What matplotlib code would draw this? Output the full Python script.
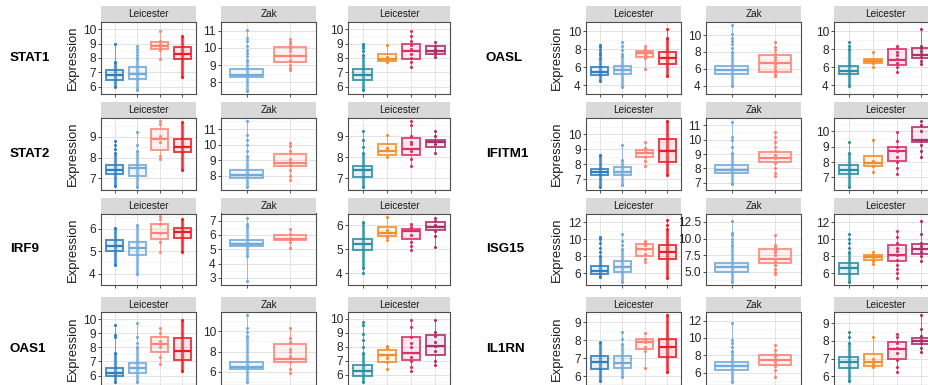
import matplotlib
matplotlib.use('Agg')
import matplotlib.pyplot as plt

plt.rcParams['font.family'] = ['Liberation Sans', 'DejaVu Sans']

# ---------------- data ----------------
genes_left = ['STAT1', 'STAT2', 'IRF9', 'OAS1']
genes_right = ['OASL', 'IFITM1', 'ISG15', 'IL1RN']
panel_titles = ['Leicester', 'Zak', 'Leicester']

colors_leic = ['#2f7ec0', '#72aadb', '#fd8476', '#ec1c24']
colors_zak = ['#72aadb', '#fd8476']
colors_leic2 = ['#2a8fa2', '#f28d2c', '#da3066', '#ad2f68']

# each group: (q1, median, q3, dense_lo, dense_hi, isolated points)
stat1_leic = [(6.45, 6.8, 7.2, 6.0, 7.7, [9.0]),
              (6.55, 6.9, 7.35, 5.75, 8.0, [8.2, 8.4, 8.6, 8.8]),
              (8.65, 8.85, 9.1, None, None, [7.9, 8.55, 8.7, 8.9, 9.0, 9.15, 9.9]),
              (7.9, 8.3, 8.75, 6.7, 9.5, [])]
stat1_zak = [(8.28, 8.45, 8.8, 7.5, 9.3, [9.5, 9.7, 9.9, 10.1, 10.4, 10.6, 11.05]),
             (9.2, 9.55, 10.05, None, None, [8.7, 8.85, 9.0, 9.3, 9.5, 9.6, 9.8, 10.0, 10.2, 10.35, 10.5])]
stat1_leic2 = [(6.5, 6.8, 7.25, 5.75, 8.2, [8.5, 8.7, 8.85, 9.0]),
               (7.8, 7.95, 8.25, None, None, [7.75, 7.85, 8.05, 8.9]),
               (7.95, 8.5, 8.95, None, None, [7.4, 7.7, 8.0, 8.3, 8.6, 8.9, 9.2, 9.5, 9.9]),
               (8.3, 8.5, 8.85, None, None, [8.1, 8.3, 8.45, 8.6, 8.85, 9.1])]

stat2_leic = [(7.2, 7.4, 7.65, 6.65, 8.2, [8.4, 8.6, 8.8]),
              (7.1, 7.5, 7.65, 6.6, 8.3, [8.6, 9.25]),
              (8.35, 8.9, 9.4, None, None, [7.95, 8.1, 8.75, 9.05, 9.6, 9.75]),
              (8.25, 8.5, 8.9, 7.4, 9.7, [])]
stat2_zak = [(7.85, 8.05, 8.4, 7.3, 9.3, [9.6, 10.0, 10.3, 10.6, 11.5]),
             (8.6, 8.85, 9.4, None, None, [7.75, 8.0, 8.4, 8.7, 8.9, 9.1, 9.6, 9.9, 10.1])]
stat2_leic2 = [(7.05, 7.4, 7.6, 6.6, 8.2, [8.5, 8.8, 9.25]),
               (8.1, 8.3, 8.6, None, None, [8.0, 8.45, 9.05]),
               (8.1, 8.4, 8.9, None, None, [7.6, 7.9, 8.3, 8.6, 8.7, 9.0, 9.5, 9.7]),
               (8.5, 8.7, 8.8, None, None, [8.2, 8.6, 8.75, 9.0, 9.25])]

irf9_leic = [(5.0, 5.25, 5.5, 4.4, 6.05, []),
             (4.85, 5.15, 5.4, 4.0, 6.15, []),
             (5.55, 5.8, 6.2, None, None, [4.95, 5.4, 5.8, 6.2, 6.45, 6.55]),
             (5.6, 5.85, 6.05, 4.95, 6.45, [])]
irf9_zak = [(5.2, 5.4, 5.65, 4.5, 6.6, [6.8, 7.2, 2.75]),
            (5.65, 5.75, 6.0, None, None, [5.1, 5.5, 5.8, 6.1, 6.4])]
irf9_leic2 = [(4.95, 5.2, 5.45, 4.2, 6.15, [4.0]),
              (5.55, 5.7, 5.95, None, None, [5.4, 5.5, 5.8, 6.35]),
              (5.45, 5.75, 5.85, None, None, [4.95, 5.15, 5.3, 5.6, 5.8, 5.95, 6.05]),
              (5.8, 5.95, 6.15, None, None, [5.1, 5.55, 5.75, 6.0, 6.2, 6.3])]

oas1_leic = [(5.95, 6.2, 6.55, 5.55, 7.6, [8.7, 8.9, 9.55]),
             (6.2, 6.5, 6.9, 5.55, 8.0, [8.3, 8.7, 9.7]),
             (7.7, 8.2, 8.7, None, None, [6.85, 7.3, 8.0, 8.2, 8.45, 9.0, 9.35]),
             (7.1, 7.75, 8.65, 6.3, 9.95, [])]
oas1_zak = [(6.3, 6.5, 7.0, 5.0, 9.5, [9.9, 10.3, 11.6]),
            (7.0, 7.3, 8.7, None, None, [5.9, 6.3, 7.0, 7.6, 8.0, 8.3, 8.9, 9.3, 10.3])]
oas1_leic2 = [(5.95, 6.25, 6.7, 5.5, 7.6, [8.0, 8.5, 8.9, 9.6, 9.75]),
              (6.95, 7.4, 7.8, None, None, [6.45, 6.9, 7.2, 7.45, 7.95, 8.05]),
              (7.1, 7.55, 8.7, None, None, [6.3, 6.6, 7.0, 7.3, 8.0, 8.3, 8.7, 9.4, 9.9]),
              (7.4, 8.05, 8.85, None, None, [6.7, 7.0, 7.7, 8.05, 8.35, 8.8, 9.1, 9.9])]

oasl_leic = [(5.1, 5.45, 6.0, 4.45, 7.0, [7.3, 7.6, 7.9, 8.2, 8.5]),
             (5.2, 5.7, 6.15, 3.8, 7.2, [7.5, 7.9, 8.3, 8.8]),
             (7.1, 7.55, 7.8, None, None, [5.75, 7.0, 7.3, 7.6, 7.8, 8.0, 8.35]),
             (6.3, 6.95, 7.7, 5.0, 9.2, [10.2])]
oasl_zak = [(5.35, 5.8, 6.3, 4.0, 8.0, [8.5, 8.9, 9.3, 9.7, 10.1, 11.2]),
            (5.6, 6.65, 7.6, None, None, [5.15, 5.4, 5.8, 6.2, 6.6, 7.0, 7.4, 7.8, 8.2, 8.6, 9.15])]
oasl_leic2 = [(5.2, 5.6, 6.1, 3.9, 8.0, [8.3, 8.8]),
              (6.5, 6.65, 6.9, None, None, [6.0, 6.4, 6.6, 6.75, 7.7]),
              (6.2, 6.8, 8.0, None, None, [5.45, 6.0, 6.5, 6.9, 7.3, 7.7, 8.1, 8.35]),
              (7.05, 7.35, 8.1, None, None, [6.3, 6.7, 7.1, 7.5, 7.8, 8.1, 8.35, 10.2])]

ifitm1_leic = [(7.25, 7.45, 7.65, 6.5, 8.6, []),
               (7.3, 7.5, 7.8, 6.6, 8.3, [9.3]),
               (8.5, 8.75, 8.95, None, None, [7.9, 8.2, 8.5, 8.8, 9.1, 9.45]),
               (8.15, 8.9, 9.7, 7.25, 10.85, [])]
ifitm1_zak = [(7.65, 7.9, 8.25, 6.95, 9.1, [9.5, 10.0, 10.2, 11.2]),
              (8.45, 8.75, 9.15, None, None, [7.5, 7.65, 8.0, 8.4, 8.7, 8.9, 9.2, 9.5, 9.8, 10.2, 10.5])]
ifitm1_leic2 = [(7.2, 7.5, 7.8, 6.4, 8.6, [9.3]),
                (7.75, 7.95, 8.4, None, None, [7.35, 7.75, 8.0, 8.1, 9.45]),
                (8.1, 8.7, 8.95, None, None, [7.25, 7.6, 8.0, 8.35, 8.7, 9.0, 9.4, 9.95]),
                (9.3, 9.45, 10.25, None, None, [8.3, 8.7, 9.1, 9.45, 10.0, 10.4, 10.65])]

isg15_leic = [(5.9, 6.3, 6.9, 5.6, 8.0, [8.5, 9.0, 9.5, 10.0, 10.3]),
              (6.2, 6.7, 7.5, 5.0, 8.8, [9.3, 9.8, 10.6]),
              (8.0, 8.85, 9.4, None, None, [7.3, 7.7, 8.3, 8.9, 9.3, 9.6, 9.8]),
              (7.7, 8.45, 9.3, 5.5, 11.2, [11.7, 12.2])]
isg15_zak = [(5.0, 5.7, 6.4, 3.5, 9.0, [9.5, 10.0, 10.5, 10.8, 12.7]),
             (6.3, 6.95, 8.5, None, None, [4.7, 5.0, 5.5, 6.0, 6.5, 7.0, 7.5, 8.0, 8.3, 8.7, 9.0, 10.6])]
isg15_leic2 = [(5.9, 6.6, 7.2, 5.0, 8.5, [9.0, 9.5, 10.0, 10.6]),
               (7.6, 7.9, 8.2, None, None, [7.1, 7.5, 7.9, 8.1, 8.5]),
               (7.4, 8.1, 9.3, None, None, [5.5, 6.0, 6.5, 7.0, 7.6, 8.1, 8.6, 9.0, 9.5, 10.2, 10.9]),
               (8.3, 8.8, 9.4, None, None, [7.5, 8.0, 8.5, 8.9, 9.2, 9.6, 10.6, 12.1])]

il1rn_leic = [(6.4, 6.8, 7.15, 5.7, 7.9, []),
              (6.45, 6.75, 7.1, 5.95, 7.8, [8.1, 8.45]),
              (7.5, 7.9, 8.1, None, None, [6.45, 7.4, 7.65, 7.9, 8.1, 8.4]),
              (7.05, 7.6, 8.1, 6.25, 9.4, [])]
il1rn_zak = [(6.3, 6.75, 7.2, 4.9, 8.5, [8.9, 9.4, 9.8, 11.7]),
             (6.9, 7.45, 8.05, None, None, [5.5, 6.3, 6.7, 7.0, 7.3, 7.6, 7.9, 8.2, 8.6, 9.15])]
il1rn_leic2 = [(6.45, 6.8, 7.1, 5.7, 7.9, [8.2, 8.5]),
               (6.6, 6.8, 7.25, None, None, [6.5, 6.7, 6.95, 8.2]),
               (6.95, 7.55, 7.95, None, None, [6.25, 6.5, 6.9, 7.3, 7.6, 7.9, 8.2, 8.4]),
               (7.8, 8.0, 8.15, None, None, [7.35, 7.6, 7.9, 8.05, 8.3, 8.65, 9.45])]

ticks_stat1 = [[6, 7, 8, 9, 10], [8, 9, 10, 11], [6, 7, 8, 9, 10]]
ticks_stat2 = [[7, 8, 9], [8, 9, 10, 11], [7, 8, 9]]
ticks_irf9 = [[4, 5, 6], [3, 4, 5, 6, 7], [4, 5, 6]]
ticks_oas1 = [[6, 7, 8, 9, 10], [6, 8, 10], [6, 7, 8, 9, 10]]
ticks_oasl = [[4, 6, 8, 10], [4, 6, 8, 10], [4, 6, 8, 10]]
ticks_ifitm1 = [[7, 8, 9, 10], [7, 8, 9, 10, 11], [7, 8, 9, 10]]
ticks_isg15 = [[6, 8, 10, 12], [5.0, 7.5, 10.0, 12.5], [6, 8, 10, 12]]
ticks_il1rn = [[6, 7, 8, 9], [6, 8, 10, 12], [6, 7, 8, 9]]

data_left = [(stat1_leic, stat1_zak, stat1_leic2, ticks_stat1),
             (stat2_leic, stat2_zak, stat2_leic2, ticks_stat2),
             (irf9_leic, irf9_zak, irf9_leic2, ticks_irf9),
             (oas1_leic, oas1_zak, oas1_leic2, ticks_oas1)]
data_right = [(oasl_leic, oasl_zak, oasl_leic2, ticks_oasl),
              (ifitm1_leic, ifitm1_zak, ifitm1_leic2, ticks_ifitm1),
              (isg15_leic, isg15_zak, isg15_leic2, ticks_isg15),
              (il1rn_leic, il1rn_zak, il1rn_leic2, ticks_il1rn)]

# ---------------- layout (pixels) ----------------
W, H = 929, 385
fig = plt.figure(figsize=(W / 100, H / 100), dpi=100)

cols_left = [(101, 95), (221, 95), (348, 102)]
cols_right = [(586, 95), (706, 95), (834, 102)]
rows = [(6, 22, 94), (102, 118, 190), (198, 213.5, 285), (296.5, 312, 385)]
label_x = [10, 486]
ylab_x = [73, 557]


def px_axes(x, y_top, w, h):
    return fig.add_axes([x / W, (H - y_top - h) / H, w / W, h / H])


def fmt(t, ticks):
    if all(float(v).is_integer() for v in ticks):
        return '%d' % t
    return '%.1f' % t


def draw_panel(ax, groups, colors, ticks):
    n = len(groups)
    vals = []
    for q1, med, q3, dlo, dhi, pts in groups:
        vals += [q1, med, q3] + list(pts)
        if dlo is not None:
            vals += [dlo, dhi]
    lo, hi = min(vals), max(vals)
    pad = 0.05 * (hi - lo)
    ax.set_ylim(lo - pad, hi + pad)
    ax.set_xlim(0.4, n + 0.6)

    step = ticks[1] - ticks[0]
    minor = [ticks[0] - step / 2] + [t + step / 2 for t in ticks]
    ax.set_yticks(ticks)
    ax.set_yticklabels([fmt(t, ticks) for t in ticks])
    ax.set_yticks(minor, minor=True)
    ax.set_xticks(range(1, n + 1))
    ax.set_xticklabels([])
    ax.grid(which='major', color='#e3e3e3', lw=0.7, zorder=0)
    ax.grid(which='minor', axis='y', color='#f1f1f1', lw=0.5, zorder=0)
    ax.set_axisbelow(True)
    ax.tick_params(which='major', axis='y', length=2.5, width=0.6, color='#333333',
                   labelsize=8.6, labelcolor='#262626', pad=1.2)
    ax.tick_params(which='major', axis='x', length=2.0, width=0.6, color='#333333')
    ax.tick_params(which='minor', length=0)
    for s in ax.spines.values():
        s.set_color('#4d4d4d')
        s.set_linewidth(0.8)

    stats = []
    for i, (q1, med, q3, dlo, dhi, pts) in enumerate(groups):
        allv = [q1, q3] + list(pts) + ([dlo, dhi] if dlo is not None else [])
        stats.append(dict(med=med, q1=q1, q3=q3, whislo=min(allv), whishi=max(allv), fliers=[]))
    bp = ax.bxp(stats, positions=range(1, n + 1), widths=0.76, showcaps=False,
                showfliers=False, patch_artist=True, manage_ticks=False)
    for i, c in enumerate(colors):
        box = bp['boxes'][i]
        box.set_facecolor(matplotlib.colors.to_rgba(c, 0.10))
        box.set_edgecolor(matplotlib.colors.to_rgba(c, 0.85))
        box.set_linewidth(1.4)
        box.set_zorder(3)
        bp['medians'][i].set_color(c)
        bp['medians'][i].set_linewidth(1.6)
        bp['medians'][i].set_zorder(4)
        for w in bp['whiskers'][2 * i:2 * i + 2]:
            w.set_color(matplotlib.colors.to_rgba(c, 0.7))
            w.set_linewidth(0.7)
            w.set_zorder(2)

    for i, (q1, med, q3, dlo, dhi, pts) in enumerate(groups):
        c = colors[i]
        x = i + 1
        if dlo is not None:
            ax.vlines(x, dlo, dhi, color=c, lw=2.3, alpha=0.7, zorder=2.5)
            ax.scatter([x, x], [dlo, dhi], s=5, color=c, zorder=5, linewidths=0)
        if pts:
            ax.scatter([x] * len(pts), pts, s=5, color=c, zorder=5, linewidths=0)


def strip(x, y_top, w, h, text):
    sa = px_axes(x, y_top, w, h)
    sa.set_facecolor('#d9d9d9')
    sa.set_xticks([])
    sa.set_yticks([])
    for s in sa.spines.values():
        s.set_visible(False)
    sa.text(0.5, 0.47, text, ha='center', va='center', fontsize=7.2,
            color='#1a1a1a', transform=sa.transAxes)


for side, (genes, data, cols) in enumerate([(genes_left, data_left, cols_left),
                                             (genes_right, data_right, cols_right)]):
    for r, (gene, (g1, g2, g3, tks)) in enumerate(zip(genes, data)):
        st, pt, pb = rows[r]
        for p, (groups, colors) in enumerate([(g1, colors_leic), (g2, colors_zak), (g3, colors_leic2)]):
            x, w = cols[p]
            strip(x, st, w, pt - st, panel_titles[p])
            ax = px_axes(x, pt, w, pb - pt)
            draw_panel(ax, groups, colors, tks[p])
        yc = (pt + pb) / 2
        fig.text(label_x[side] / W, 1 - yc / H, gene, ha='left', va='center',
                 fontsize=9.6, fontweight='bold', color='black')
        fig.text(ylab_x[side] / W, 1 - yc / H, 'Expression', ha='center', va='center',
                 rotation=90, fontsize=9.4, color='#1a1a1a')

fig.savefig('out.png', dpi=100)
